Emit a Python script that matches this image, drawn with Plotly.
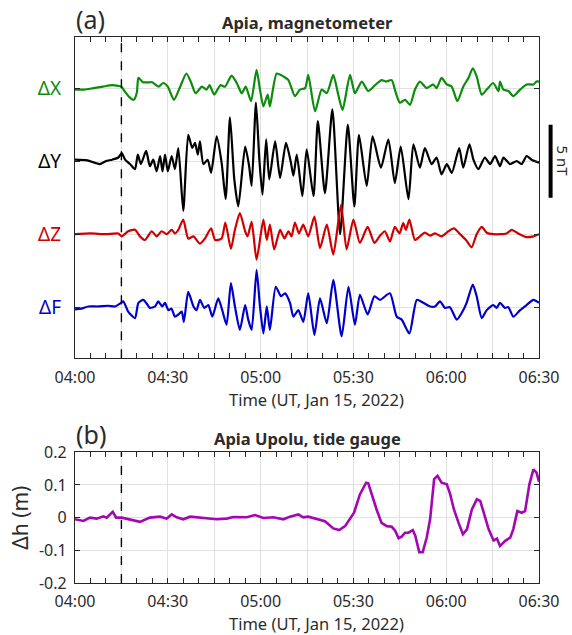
import pandas as pd
import plotly.graph_objects as go

# ---------------- data (minutes after 04:00 UT, Jan 15 2022) ----------------
start_time = "2022-01-15 04:00"
end_time = "2022-01-15 06:30"
onset_time = "2022-01-15 04:15"

# magnetometer perturbations (nT)
dx_t = [0, 3, 6, 9, 12, 14, 15, 16, 17.5, 19, 20, 20.5, 22, 24, 25, 27, 28.5, 30, 32, 34, 36, 37.5, 39, 41,
        42.5, 43.5, 45, 47, 48.5, 50.6, 52.3, 53.9, 55.2, 56.9, 58.7, 59.8, 60.9, 62.3, 63.0, 65.2, 67.4, 69,
        71.1, 72.7, 74.4, 75.4, 77.6, 79.75, 81.4, 83.5, 85.1, 86.5, 88.9, 90.5, 92.7, 94.8, 97, 99.1, 100.5,
        102.4, 103.4, 105, 106.7, 108.3, 109.9, 111.5, 113.7, 115.8, 116.9, 118.5, 120.2, 121.8, 123.6, 125.5,
        127.2, 128.6, 129.85, 131.5, 133.1, 135.2, 136.9, 137.4, 138.5, 140.1, 141.7, 143.9, 146, 148.2, 149.2, 150]
dx_v = [-0.1, -0.1, 0.0, 0.1, 0.2, 0.15, 0.1, -0.2, -0.6, -0.8, -0.3, 0.7, 0.4, 0.4, 0.4, 0.1, 0.35, 0.1, -0.8,
        0.1, 1.0, 0.4, -0.35, 0.1, -0.1, 0.2, -0.45, 0.2, 0.1, 0.85, 0.35, -0.35, 0.1, -0.9, 1.25, -0.1, -1.25,
        -0.45, -1.25, 1.0, 0.8, 0.55, -0.55, -0.1, 0.0, 0.9, -1.6, -0.1, -0.35, 0.9, -0.45, -1.5, 0.9, -0.35,
        0.45, -0.2, 0.2, 0.55, 0.45, 0.55, -0.1, -1.0, -0.8, -1.15, -0.1, 0.45, 0.0, 0.25, 0.0, 0.7, 0.25, 0.1,
        -0.9, 0.1, 0.7, 1.35, 0.8, -0.45, -0.1, 0.35, -0.2, 0.45, -0.1, -0.2, -0.55, -0.1, 0.25, 0.25, 0.45, 0.45]

dy_t = [0, 4, 8, 10, 12, 14, 15.1, 16.2, 17.8, 19.4, 20.3, 21.3, 23, 24.2, 25.3, 26.4, 27.5, 28.3, 29.1, 30,
        31.25, 32.3, 33.4, 35, 36.6, 37.9, 38.8, 39.7, 40.4, 41.5, 42.9, 44, 45.8, 47.4, 48.7, 50.1, 51.5, 52.8,
        55, 56.3, 57.1, 58.5, 59.6, 60.6, 61.8, 62.8, 64.7, 66.3, 68.2, 69.8, 70.6, 71.7, 73.5, 74.9, 77.1, 78.5,
        80.8, 83.2, 85.7, 88.2, 90.3, 91.8, 94.3, 96.2, 98.9, 101.3, 103.4, 105.3, 107.8, 109.4, 111.5, 113.1,
        115.3, 116.9, 118.5, 120.2, 121.8, 124.2, 125.5, 127.5, 128.8, 130.4, 132.5, 134.2, 135.8, 137.4, 138.5,
        140.6, 142.8, 144.4, 146, 147.6, 150]
dy_v = [0.1, 0.05, -0.2, 0.0, 0.1, 0.25, 0.55, 0.1, -0.2, -0.55, 0.45, -0.2, 0.7, -0.35, 0.1, -0.7, 0.35, -0.7,
        0.45, -0.7, 0.35, -0.55, 0.9, -3.4, 1.8, 0.9, 1.25, 0.45, 1.35, -0.2, 0.1, -0.8, 1.7, -0.1, -2.6, 3.0,
        -1.25, -3.1, 1.0, -0.35, -1.7, 4.0, 0.1, -2.3, 1.5, -1.25, 1.35, -1.15, 1.25, -0.1, -1.0, 0.45, -2.4, 0.8,
        -2.4, 2.75, -2.2, 3.55, -5.0, 2.5, -3.1, 1.8, -1.7, 1.7, -0.45, 1.5, -1.5, 1.0, -2.6, 1.15, -0.45, 0.9,
        -0.2, 0.25, -0.9, -0.2, -0.8, 0.9, -0.45, 1.15, 0.1, -0.55, 0.25, -0.2, 0.35, -0.35, 0.25, -0.2, 0.0,
        -0.2, 0.35, 0.1, -0.1]

dz_t = [0, 5, 10, 14, 15.1, 17.2, 19.4, 21, 22.6, 24.8, 26.4, 28, 29.6, 31.25, 32.3, 33.4, 35, 36.6, 38.3, 40.4,
        42, 44, 45.3, 47.4, 48.6, 50.4, 51.7, 53.3, 55, 55.8, 57.1, 58.7, 60.9, 62, 63, 64.4, 66.3, 67.7, 69, 70,
        71.1, 72.4, 73.8, 75.4, 77.4, 79.2, 81.4, 83.5, 86, 87.8, 90, 92.1, 94.6, 96.8, 98.6, 100.2, 101.8, 103.4,
        104.9, 106.1, 107, 108.1, 109.9, 111.5, 113.1, 114.8, 116.4, 118.5, 120.7, 122.5, 124.5, 126.4, 128.2,
        129.85, 131.5, 133.1, 135.2, 137.4, 139.5, 141.2, 143.3, 146, 148.2, 150]
dz_v = [0.0, 0.05, 0.0, 0.05, -0.15, 0.2, 0.3, -0.15, -0.4, 0.2, -0.15, 0.2, 0.0, 0.3, 0.05, 0.3, 1.0, -0.3,
        -0.15, -0.65, -0.3, 0.4, -0.4, -0.3, 0.8, -1.0, 0.3, 1.45, 0.2, -0.15, 0.85, -1.75, 1.0, -0.4, 0.65, -1.05,
        0.3, -0.3, 0.2, -0.15, 0.8, 0.05, 0.65, -0.15, 1.2, -0.95, 0.65, -1.4, 2.0, -1.05, 1.0, -0.6, 0.5, -0.6,
        -0.1, 0.2, -0.5, 0.5, 0.05, 0.75, 0.3, 1.0, -0.4, -0.15, 0.1, -0.1, 0.05, -0.15, 0.2, 0.4, 0.0, -0.4,
        -0.9, 0.0, 0.5, 0.1, 0.0, 0.0, 0.05, 0.3, 0.05, -0.2, -0.15, 0.0]

df_t = [0, 2, 4.3, 7.5, 10.8, 12.9, 14.9, 15.6, 17.2, 19.4, 20.5, 22.1, 23.5, 24.2, 25.9, 26.9, 28.2, 29.1, 30.2,
        31.2, 32.3, 33.4, 34.5, 35.2, 36.6, 38.3, 39.3, 40.4, 41.8, 43.1, 44.4, 46.3, 47.6, 49, 50.4, 51.7, 53.3,
        55, 56, 57.1, 58.7, 59.8, 60.9, 62, 63, 64.9, 66.6, 67.9, 69.5, 70.6, 72.2, 73.8, 75.4, 77.4, 79.2, 81.4,
        83.5, 86.2, 88.4, 90.5, 92.1, 94.6, 96.8, 98.6, 101.8, 104, 105.6, 108.1, 110.5, 112.6, 114.8, 116.4, 118,
        119.6, 121.2, 123.4, 125, 126.6, 128.6, 129.85, 131.5, 133.1, 135.2, 136.3, 137.4, 139, 140.1, 141.7,
        143.9, 146, 148.2, 150]
df_v = [-0.15, -0.1, 0.05, 0.05, 0.1, 0.05, 0.3, 0.4, -0.3, -0.75, 0.3, 0.5, 0.15, -0.05, 0.05, 0.4, 0.05, 0.3,
        -0.2, -0.1, -0.65, -0.5, -0.3, -1.0, 1.05, 0.05, -0.2, 0.5, -0.05, 0.15, -0.65, 0.6, -0.2, -1.2, 1.65,
        0.05, -1.55, 0.15, -0.85, -1.55, 2.55, 0.05, -1.8, 0.05, -1.55, 1.4, 0.75, 0.95, 0.3, -0.65, -0.2, -1.0,
        0.95, -1.9, 0.6, -1.1, 1.85, -2.0, 1.4, -1.2, 0.85, -0.5, 0.75, 0.5, 0.95, -0.65, -0.85, -1.8, 0.5, 0.3,
        0.05, 0.05, 0.4, -0.05, 0.0, -0.85, -0.4, 0.3, 1.55, 0.75, -0.75, -0.2, 0.15, -0.05, 0.3, -0.05, 0.0,
        -0.65, -0.2, 0.15, 0.5, 0.3]

# tide gauge sea-level anomaly (m)
tide_t = [0, 2.7, 4.85, 7, 9.2, 10.2, 12.2, 13.3, 15.1, 17.2, 21, 24.2, 27.5, 29.6, 31.25, 32.9, 35, 37.2, 40.4,
          43.6, 45.8, 49, 51.2, 55.5, 58.2, 60.9, 64.1, 67.4, 69.5, 72.2, 73.8, 75.4, 78.1, 80.8, 83.5, 85.4, 87.3,
          88.9, 90.2, 92.1, 94.1, 94.8, 95.9, 97.5, 99.1, 100.8, 102.4, 103.5, 104.6, 105.6, 106.7, 107.8, 109.2,
          110, 111.3, 112.4, 113.7, 114.8, 116.1, 117.2, 118.5, 120.2, 121.3, 122.5, 124, 125.4, 126.7, 128.3,
          129.9, 131, 132.3, 133.7, 135.3, 136.4, 137.4, 139.1, 140.7, 141.7, 143, 144.4, 145.5, 146.9, 148.2,
          149.2, 150]
tide_v = [-0.005, -0.01, 0.0, -0.003, 0.004, 0.0, 0.018, 0.0, 0.0, -0.005, -0.013, 0.0, 0.003, -0.003, 0.01,
          0.001, -0.005, 0.003, 0.0, -0.001, -0.005, -0.003, 0.002, 0.001, 0.008, -0.001, 0.001, -0.005, 0.003,
          0.01, 0.001, 0.003, -0.004, -0.011, -0.033, -0.038, -0.026, -0.005, 0.015, 0.071, 0.107, 0.105, 0.071,
          0.025, -0.016, -0.026, -0.028, -0.04, -0.063, -0.058, -0.046, -0.046, -0.038, -0.055, -0.106, -0.106,
          -0.061, -0.005, 0.118, 0.128, 0.107, 0.102, 0.071, 0.025, -0.016, -0.051, -0.036, 0.025, 0.056, 0.051,
          0.01, -0.035, -0.07, -0.064, -0.087, -0.071, -0.061, -0.035, 0.02, 0.015, 0.02, 0.102, 0.148, 0.138, 0.11]

component_names = ["ΔX", "ΔY", "ΔZ", "ΔF"]
component_offsets = [15, 10, 5, 0]          # nT, vertical stacking of traces
component_colors = ["#0c8c0c", "#000000", "#d10000", "#0000cc"]
tide_ticks = [-0.2, -0.1, 0, 0.1, 0.2]
tide_ticklabels = ["-0.2", "-0.1", "0", "0.1", "0.2"]
scale_bar_nT = 5

# ---------------- figure ----------------
t0 = pd.Timestamp(start_time)


def to_time(mins):
    return t0 + pd.to_timedelta(mins, unit="m")


FONT = "Noto Sans"
TXT = "#2b2b2b"
GRID = "#e1e1e1"
AX = "#262626"

fig = go.Figure()
series = [(dx_t, dx_v), (dy_t, dy_v), (dz_t, dz_v), (df_t, df_v)]
for (tt, vv), off, col, name in zip(series, component_offsets, component_colors, component_names):
    fig.add_trace(go.Scatter(x=to_time(tt), y=[v + off for v in vv], mode="lines",
                             line=dict(color=col, width=2.2, shape="spline", smoothing=0.6),
                             name=name, showlegend=False, xaxis="x", yaxis="y"))

fig.add_trace(go.Scatter(x=to_time(tide_t), y=tide_v, mode="lines",
                         line=dict(color="#a406b4", width=2.6), showlegend=False,
                         xaxis="x2", yaxis="y2"))

grid_times = pd.date_range(start_time, end_time, freq="15min")
grid_text = [t.strftime("%H:%M") if t.minute % 30 == 0 else "" for t in grid_times]

xcommon = dict(range=[start_time, end_time], type="date", tickmode="array",
               tickvals=list(grid_times), ticktext=grid_text,
               showgrid=True, gridcolor=GRID, gridwidth=1,
               ticks="inside", ticklen=5, tickwidth=1.2, tickcolor=AX,
               showline=True, linecolor=AX, linewidth=1.2, mirror="ticks",
               tickfont=dict(family=FONT, size=16, color=TXT), ticklabelstandoff=4,
               minor=dict(tickmode="linear", tick0=start_time, dtick=5 * 60 * 1000,
                          ticks="inside", ticklen=5, tickwidth=1.2, tickcolor=AX, showgrid=False),
               zeroline=False)

ytext = [f'<span style="color:{c}">{n}</span>' for n, c in zip(component_names, component_colors)]

fig.update_layout(
    width=572, height=635,
    margin=dict(l=75, r=33, t=37, b=52),
    paper_bgcolor="white", plot_bgcolor="white",
    font=dict(family=FONT, color=TXT),
    xaxis=dict(xcommon, domain=[0, 1], anchor="y"),
    yaxis=dict(domain=[0.4115, 1], range=[-3.5, 18.5], tickmode="array",
               tickvals=component_offsets, ticktext=ytext,
               showgrid=True, gridcolor=GRID, gridwidth=1, zeroline=False,
               ticks="inside", ticklen=5, tickwidth=1.2, tickcolor=AX,
               showline=True, linecolor=AX, linewidth=1.2, mirror="ticks",
               tickfont=dict(family=FONT, size=19), ticklabelstandoff=9, anchor="x"),
    xaxis2=dict(xcommon, domain=[0, 1], anchor="y2"),
    yaxis2=dict(domain=[0, 0.2394], range=[-0.2, 0.2], tickmode="array",
                tickvals=tide_ticks, ticktext=tide_ticklabels,
                showgrid=True, gridcolor=GRID, gridwidth=1, zeroline=False,
                ticks="inside", ticklen=5, tickwidth=1.2, tickcolor=AX,
                showline=True, linecolor=AX, linewidth=1.2, mirror="ticks",
                tickfont=dict(family=FONT, size=16, color=TXT), ticklabelstandoff=4,
                title=dict(text="Δh (m)", font=dict(family=FONT, size=21, color=TXT), standoff=4),
                anchor="x2"),
)

# event onset dashed lines
for xr, yr in (("x", "y domain"), ("x2", "y2 domain")):
    fig.add_shape(type="line", xref=xr, yref=yr, x0=onset_time, x1=onset_time, y0=0, y1=1,
                  line=dict(color="black", width=1.4, dash="dash"))

# 5 nT scale bar, centred on the ΔY trace
fig.add_shape(type="line", xref="paper", yref="y", x0=1.025, x1=1.025,
              y0=component_offsets[1] - scale_bar_nT / 2, y1=component_offsets[1] + scale_bar_nT / 2,
              line=dict(color="black", width=4))
fig.add_annotation(text=f"{scale_bar_nT} nT", xref="paper", yref="y", x=1.051, y=component_offsets[1],
                   xanchor="center", yanchor="middle",
                   textangle=90, showarrow=False, font=dict(family=FONT, size=15, color=TXT))

ann = [
    dict(text="(a)", x=-0.003, y=1.0, yshift=18, xanchor="left", yanchor="middle", font=dict(size=25)),
    dict(text="<b>Apia, magnetometer</b>", x=0.5, y=1.0, yshift=15, xanchor="center", yanchor="middle",
         font=dict(size=16.5)),
    dict(text="Time (UT, Jan 15, 2022)", x=0.52, y=0.4115, yshift=-41, xanchor="center", yanchor="middle",
         font=dict(size=16.5)),
    dict(text="(b)", x=-0.003, y=0.2394, yshift=18, xanchor="left", yanchor="middle", font=dict(size=25)),
    dict(text="<b>Apia Upolu, tide gauge</b>", x=0.5, y=0.2394, yshift=14, xanchor="center", yanchor="middle",
         font=dict(size=16.5)),
    dict(text="Time (UT, Jan 15, 2022)", x=0.52, y=0.0, yshift=-40, xanchor="center", yanchor="middle",
         font=dict(size=16.5)),
]
for a in ann:
    a["font"].update(family=FONT, color=TXT)
    fig.add_annotation(xref="paper", yref="paper", showarrow=False, **a)

fig.write_html("out.html", config={"displayModeBar": False},
               post_script="document.body.style.margin='0';document.body.style.overflow='hidden';")
